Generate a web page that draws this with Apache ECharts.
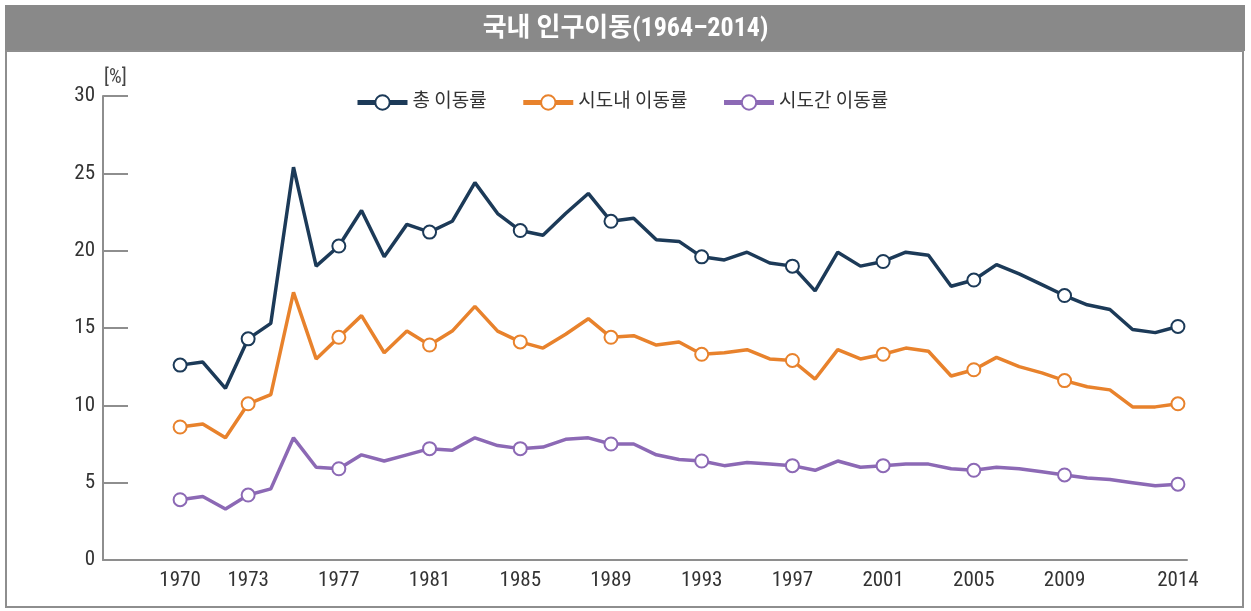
<!DOCTYPE html>
<html>
<head>
<meta charset="utf-8">
<script src="https://cdn.jsdelivr.net/npm/echarts@6/dist/echarts.min.js"></script>
<style>
  html, body { margin: 0; padding: 0; background: #fff; }
  #chart { width: 1251px; height: 611px; }
</style>
</head>
<body>
<div id="chart"></div>
<script>
const years = [];
for (let y = 1970; y <= 2014; y++) years.push(y);

const markedYears = [1970, 1973, 1977, 1981, 1985, 1989, 1993, 1997, 2001, 2005, 2009, 2014];
const yTicks = [0, 5, 10, 15, 20, 25, 30];

const totalRate = [
  12.6, 12.8, 11.1, 14.3, 15.3, 25.4, 19.0, 20.3, 22.6, 19.6,
  21.7, 21.2, 21.9, 24.4, 22.4, 21.3, 21.0, 22.4, 23.7, 21.9,
  22.1, 20.7, 20.6, 19.6, 19.4, 19.9, 19.2, 19.0, 17.4, 19.9,
  19.0, 19.3, 19.9, 19.7, 17.7, 18.1, 19.1, 18.5, 17.8, 17.1,
  16.5, 16.2, 14.9, 14.7, 15.1
];
const withinRate = [
  8.6, 8.8, 7.9, 10.1, 10.7, 17.3, 13.0, 14.4, 15.8, 13.4,
  14.8, 13.9, 14.8, 16.4, 14.8, 14.1, 13.7, 14.6, 15.6, 14.4,
  14.5, 13.9, 14.1, 13.3, 13.4, 13.6, 13.0, 12.9, 11.7, 13.6,
  13.0, 13.3, 13.7, 13.5, 11.9, 12.3, 13.1, 12.5, 12.1, 11.6,
  11.2, 11.0, 9.9, 9.9, 10.1
];
const betweenRate = [
  3.9, 4.1, 3.3, 4.2, 4.6, 7.9, 6.0, 5.9, 6.8, 6.4,
  6.8, 7.2, 7.1, 7.9, 7.4, 7.2, 7.3, 7.8, 7.9, 7.5,
  7.5, 6.8, 6.5, 6.4, 6.1, 6.3, 6.2, 6.1, 5.8, 6.4,
  6.0, 6.1, 6.2, 6.2, 5.9, 5.8, 6.0, 5.9, 5.7, 5.5,
  5.3, 5.2, 5.0, 4.8, 4.9
];

const seriesNames = ['총 이동률', '시도내 이동률', '시도간 이동률'];
const colors = ['#1c3a58', '#e8822c', '#8c69b5'];

const fontFam = '"Roboto Condensed", "Liberation Sans Narrow", "Noto Sans CJK KR", sans-serif';

function buildData(values) {
  return years.map((yr, i) => ({
    value: [yr, values[i]],
    symbol: markedYears.includes(yr) ? 'emptyCircle' : 'none'
  }));
}

function makeSeries(name, values, color) {
  return {
    name: name,
    type: 'line',
    data: buildData(values),
    symbolSize: 13,
    showAllSymbol: true,
    lineStyle: { color: color, width: 3.5 },
    itemStyle: { color: color, borderWidth: 3 },
    emphasis: { disabled: true },
    z: 3
  };
}

const chart = echarts.init(document.getElementById('chart'));
chart.setOption({
  animation: false,
  title: {
    text: '국내 인구이동(1964–2014)',
    left: 'center',
    top: 11,
    textStyle: { color: '#fff', fontSize: 26, fontWeight: 'bold', fontFamily: fontFam }
  },
  graphic: [
    { type: 'rect', z: -10, shape: { x: 5, y: 5, width: 1240, height: 46 }, style: { fill: '#898989' } },
    { type: 'rect', z: -10, shape: { x: 6, y: 51, width: 1237, height: 556 }, style: { fill: '#fff', stroke: '#8e8e8e', lineWidth: 2 } },
    { type: 'text', left: 104, top: 68, style: { text: '[%]', fontSize: 20, fill: '#444', fontFamily: fontFam } }
  ],
  legend: {
    top: 88,
    left: 350,
    itemWidth: 50,
    itemHeight: 18,
    itemGap: 34,
    lineStyle: { width: 5 },
    itemStyle: { borderWidth: 4 },
    textStyle: { fontSize: 19, color: '#333', fontFamily: fontFam },
    data: seriesNames
  },
  grid: { left: 103, right: 64, top: 96, bottom: 51 },
  xAxis: {
    type: 'value',
    min: 1966.6,
    max: 2014.4,
    splitLine: { show: false },
    axisTick: { show: false },
    axisLine: { lineStyle: { color: '#8e8e8e', width: 2 } },
    axisLabel: {
      customValues: markedYears,
      formatter: v => String(v),
      color: '#333',
      fontSize: 21,
      margin: 10,
      fontFamily: fontFam
    }
  },
  yAxis: {
    type: 'value',
    min: 0,
    max: 30,
    interval: 5,
    splitLine: { show: false },
    axisLine: { show: true, lineStyle: { color: '#8e8e8e', width: 2 } },
    axisTick: { show: true, inside: true, length: 25, lineStyle: { color: '#8e8e8e', width: 2 } },
    axisLabel: {
      customValues: yTicks,
      color: '#333',
      fontSize: 21,
      margin: 8,
      fontFamily: fontFam
    }
  },
  series: [
    makeSeries(seriesNames[0], totalRate, colors[0]),
    makeSeries(seriesNames[1], withinRate, colors[1]),
    makeSeries(seriesNames[2], betweenRate, colors[2])
  ]
});
</script>
</body>
</html>
